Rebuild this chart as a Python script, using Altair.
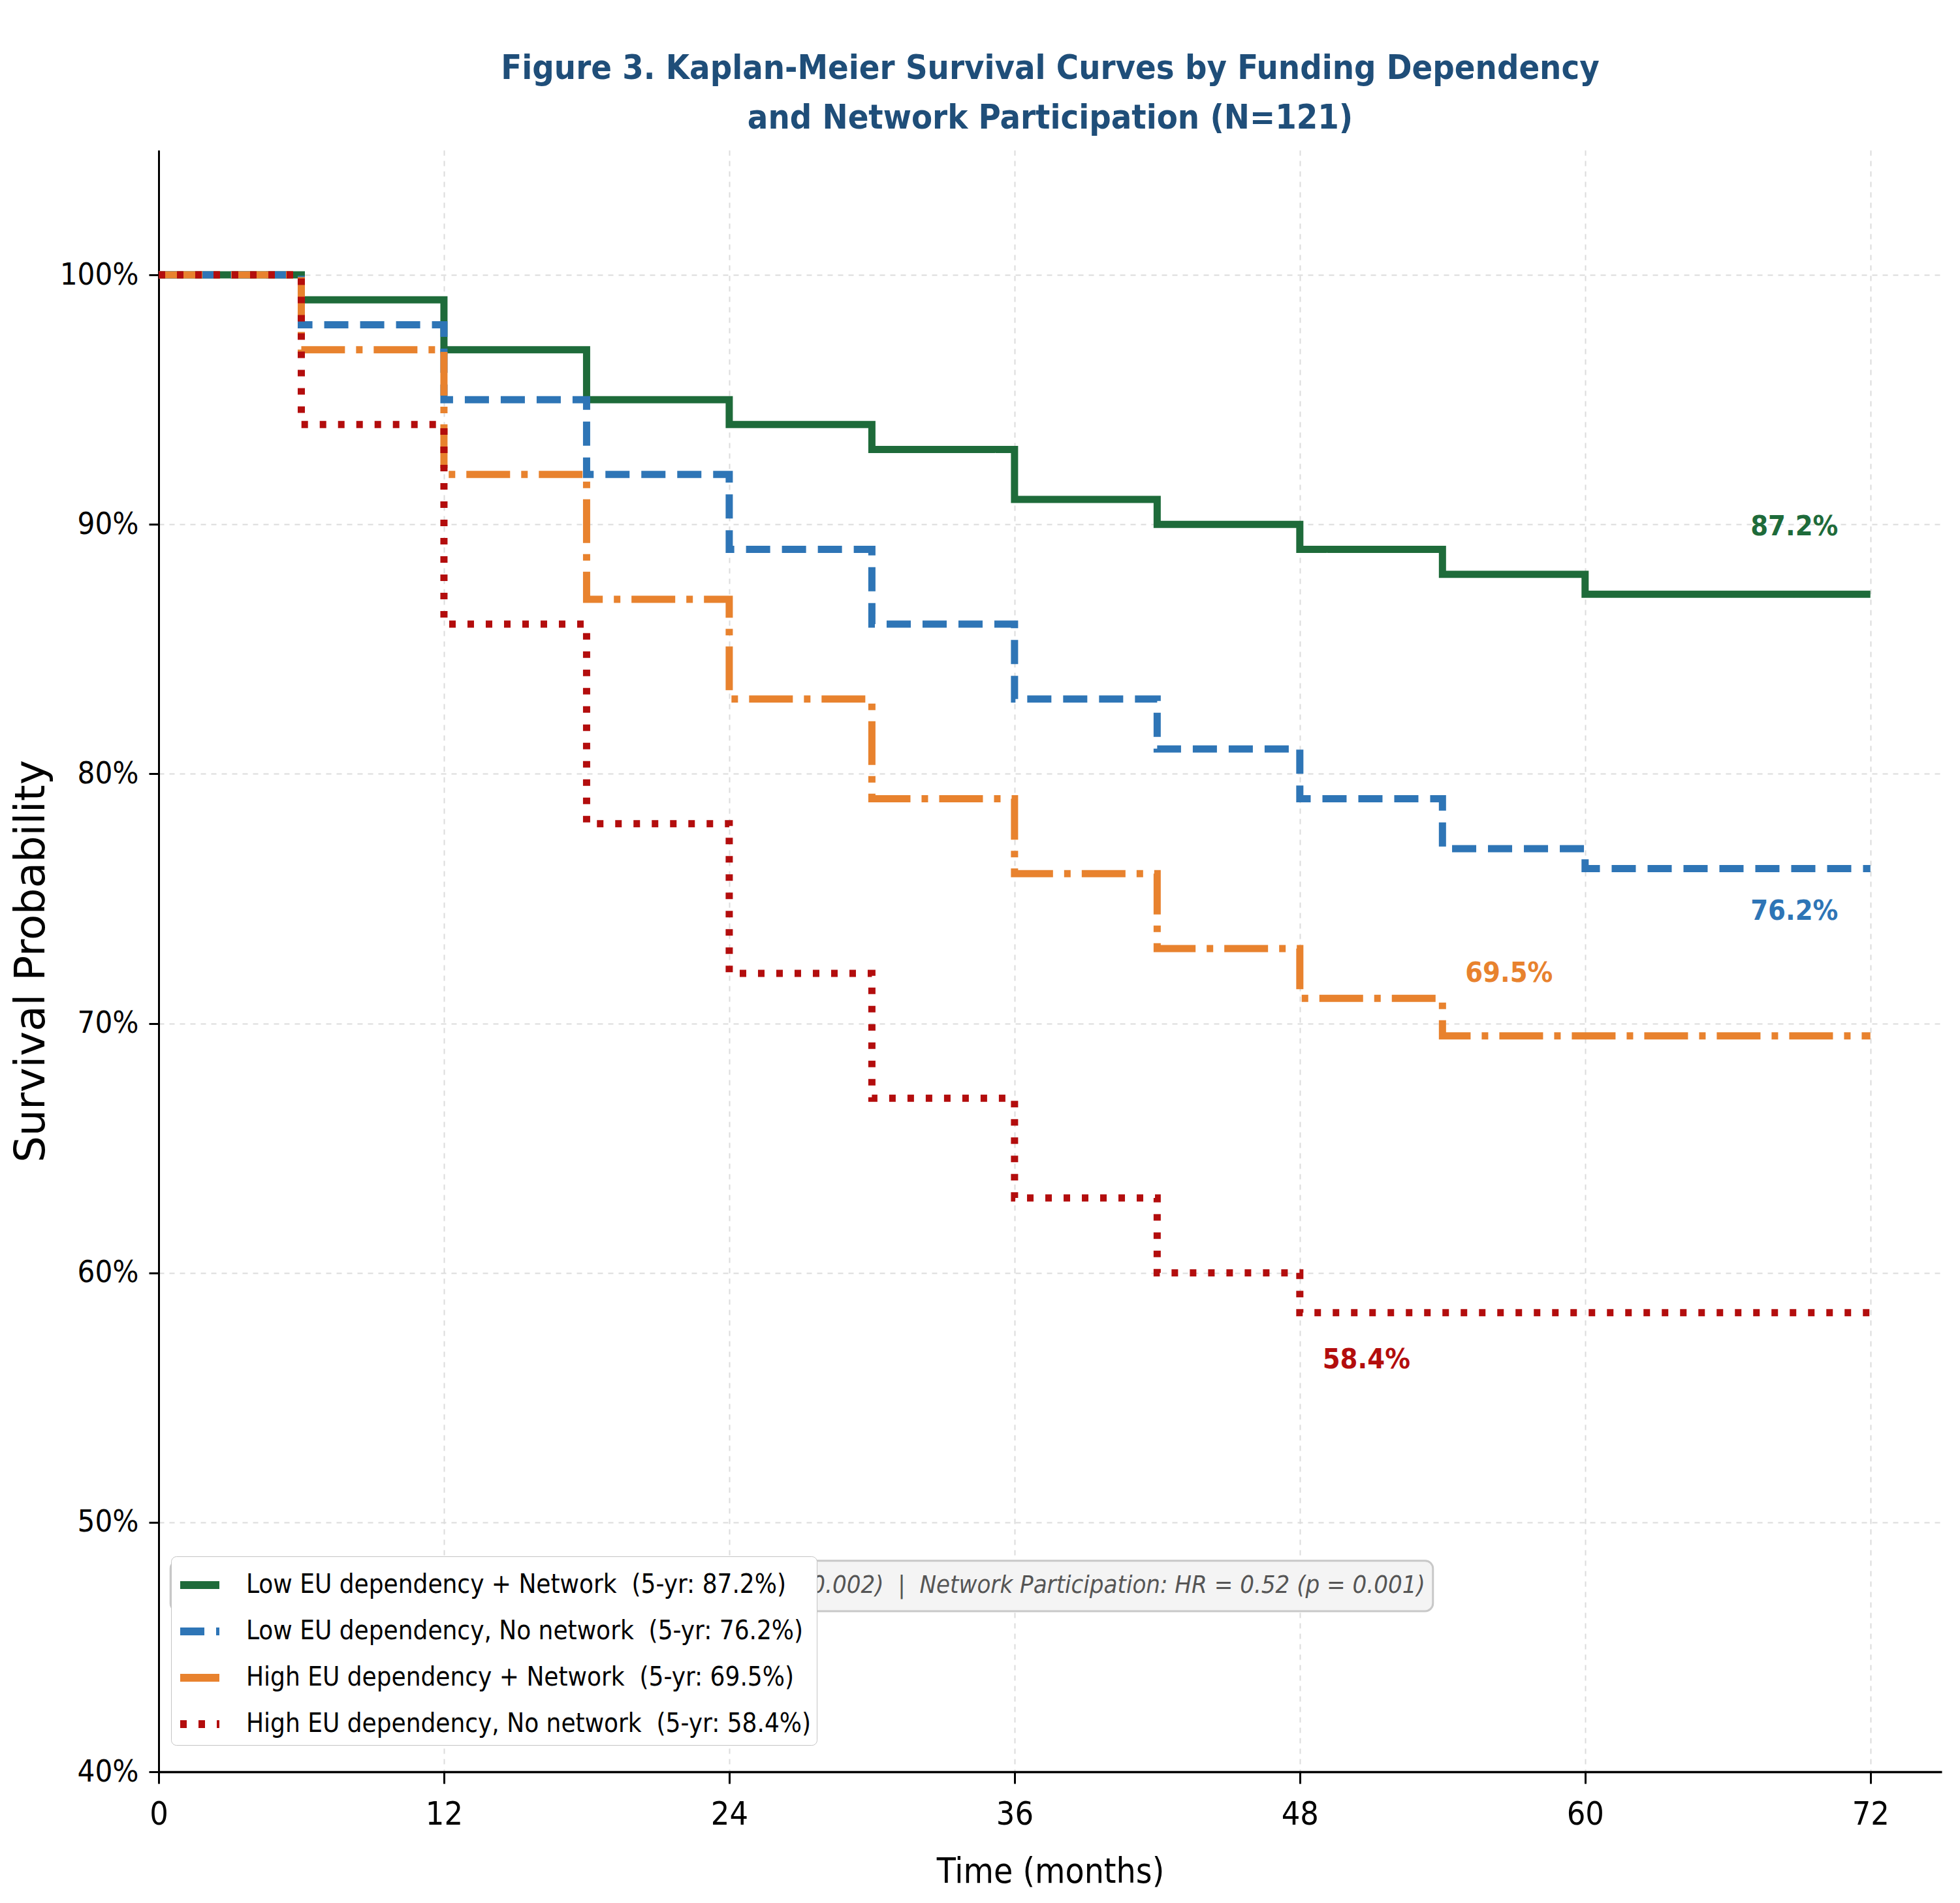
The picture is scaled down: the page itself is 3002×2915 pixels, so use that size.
import altair as alt
import pandas as pd

# ---------------- data ----------------
series_names = [
    "Low EU dependency + Network",
    "Low EU dependency, No network",
    "High EU dependency + Network",
    "High EU dependency, No network",
]
five_year = ["87.2%", "76.2%", "69.5%", "58.4%"]

months = [0, 6, 12, 18, 24, 30, 36, 42, 48, 54, 60, 72]
surv_low_net = [1.00, 0.99, 0.97, 0.95, 0.94, 0.93, 0.91, 0.90, 0.89, 0.88, 0.872, 0.872]
surv_low_nonet = [1.00, 0.98, 0.95, 0.92, 0.89, 0.86, 0.83, 0.81, 0.79, 0.77, 0.762, 0.762]
surv_high_net = [1.00, 0.97, 0.92, 0.87, 0.83, 0.79, 0.76, 0.73, 0.71, 0.695, 0.695, 0.695]
surv_high_nonet = [1.00, 0.94, 0.86, 0.78, 0.72, 0.67, 0.63, 0.60, 0.584, 0.584, 0.584, 0.584]
all_surv = [surv_low_net, surv_low_nonet, surv_high_net, surv_high_nonet]

# end-of-curve annotations (month, survival) where the 5-yr labels sit
label_month = [68.8, 68.8, 56.8, 50.8]
label_surv = [0.899, 0.745, 0.720, 0.565]

stats_text = ("High EU Dependency: HR = 2.14 (p = 0.002) \u00a0| \u00a0"
              "Network Participation: HR = 0.52 (p = 0.001)")
stats_month = [53.27]
stats_surv = [0.4745]
stats_box_month = [0.5, 53.6]
stats_box_surv = [0.4644, 0.4846]

x_ticks = [0, 12, 24, 36, 48, 60, 72]
y_ticks = [0.4, 0.5, 0.6, 0.7, 0.8, 0.9, 1.0]

# ---------------- style ----------------
palette = ["#1e6b3a", "#2e75b6", "#e8822e", "#b30d0d"]
dashes = [[1, 0], [37, 18], [67, 17, 10, 17], [10, 18]]
NARROW = "DejaVu Sans Condensed, Liberation Sans Narrow, sans-serif"
W, H = 2731, 2484

legend_labels = [f"{n} \u00a0(5-yr: {v})" for n, v in zip(series_names, five_year)]

rows = []
for lab, surv in zip(legend_labels, all_surv):
    for m, s in zip(months, surv):
        rows.append({"month": m, "surv": s, "series": lab})
df = pd.DataFrame(rows)

lab_df = pd.DataFrame({"month": label_month, "surv": label_surv,
                       "text": five_year, "series": legend_labels})
stats_df = pd.DataFrame({"month": stats_month, "surv": stats_surv, "text": [stats_text]})
box_df = pd.DataFrame({"month": [stats_box_month[0]], "month2": [stats_box_month[1]],
                       "surv": [stats_box_surv[0]], "surv2": [stats_box_surv[1]]})

x_axis = alt.Axis(values=x_ticks, title="Time (months)", format="d",
                  labelFlush=False, labelFont=NARROW, labelFontSize=50,
                  labelPadding=22, tickSize=18, tickWidth=3, tickColor="black",
                  domainColor="black", domainWidth=3.5, labelColor="black",
                  titleFont=NARROW, titleFontSize=53, titleFontWeight="normal",
                  titleColor="black", titleY=153, titleBaseline="middle",
                  grid=True, gridDash=[8, 8], gridColor="#dcdcdc", gridWidth=2)
y_axis = alt.Axis(values=y_ticks, title="Survival Probability", format=".0%",
                  labelFont=NARROW, labelFontSize=47, labelPadding=16,
                  tickSize=15, tickWidth=3, tickColor="black",
                  domainColor="black", domainWidth=3, labelColor="black",
                  titleFont="DejaVu Sans", titleFontSize=64, titleFontWeight="normal",
                  titleColor="black", titleX=-195, titleY=H / 2, titleAngle=270,
                  titleAlign="center", titleBaseline="middle",
                  grid=True, gridDash=[8, 8], gridColor="#dcdcdc", gridWidth=2)
x_scale = alt.Scale(domain=[0, 75], nice=False, zero=False)
y_scale = alt.Scale(domain=[0.40, 1.05], nice=False, zero=False)


def X():
    return alt.X("month:Q", scale=x_scale, axis=x_axis)


def Y():
    return alt.Y("surv:Q", scale=y_scale, axis=y_axis)


legend = alt.Legend(title=None, orient="none", legendX=19, legendY=2154,
                    symbolType="stroke", symbolSize=3600, symbolStrokeWidth=12,
                    labelFont=NARROW, labelFontSize=40, labelColor="black",
                    labelLimit=0, labelOffset=35, rowPadding=11, padding=8,
                    fillColor="white", strokeColor="#c4c4c4", cornerRadius=8)

box = alt.Chart(box_df).mark_rect(fill="#f4f4f4", stroke="#c8c8c8", strokeWidth=3,
                                  cornerRadius=12).encode(
    x=X(), x2="month2:Q", y=Y(), y2="surv2:Q")

stats = alt.Chart(stats_df).mark_text(align="right", baseline="middle", font=NARROW,
                                      fontStyle="italic", fontSize=38,
                                      color="#555555").encode(x=X(), y=Y(), text="text:N")

lines = alt.Chart(df).mark_line(interpolate="step-after", strokeWidth=11).encode(
    x=X(), y=Y(),
    color=alt.Color("series:N", sort=legend_labels,
                    scale=alt.Scale(domain=legend_labels, range=palette), legend=legend),
    strokeDash=alt.StrokeDash("series:N", sort=legend_labels,
                              scale=alt.Scale(domain=legend_labels, range=dashes),
                              legend=legend),
)

label_layers = []
for lab, col in zip(legend_labels, palette):
    label_layers.append(
        alt.Chart(lab_df).transform_filter(alt.datum.series == lab)
        .mark_text(align="center", baseline="middle", font=NARROW, fontSize=43,
                   fontWeight="bold", color=col)
        .encode(x=X(), y=Y(), text="text:N")
    )

chart = alt.layer(box, stats, lines, *label_layers).properties(
    width=W, height=H,
    title=alt.Title(["Figure 3. Kaplan-Meier Survival Curves by Funding Dependency",
                     "and Network Participation (N=121)"],
                    font=NARROW, fontSize=52, fontWeight="bold", color="#1f4e79",
                    anchor="middle", frame="group", lineHeight=76, offset=22),
    autosize=alt.AutoSizeParams(type="none"),
    padding={"left": 243, "top": 230, "right": 28, "bottom": 201},
).configure(background="white").configure_view(stroke=None)

chart.save("out.html", embed_options={"renderer": "svg", "actions": False})
